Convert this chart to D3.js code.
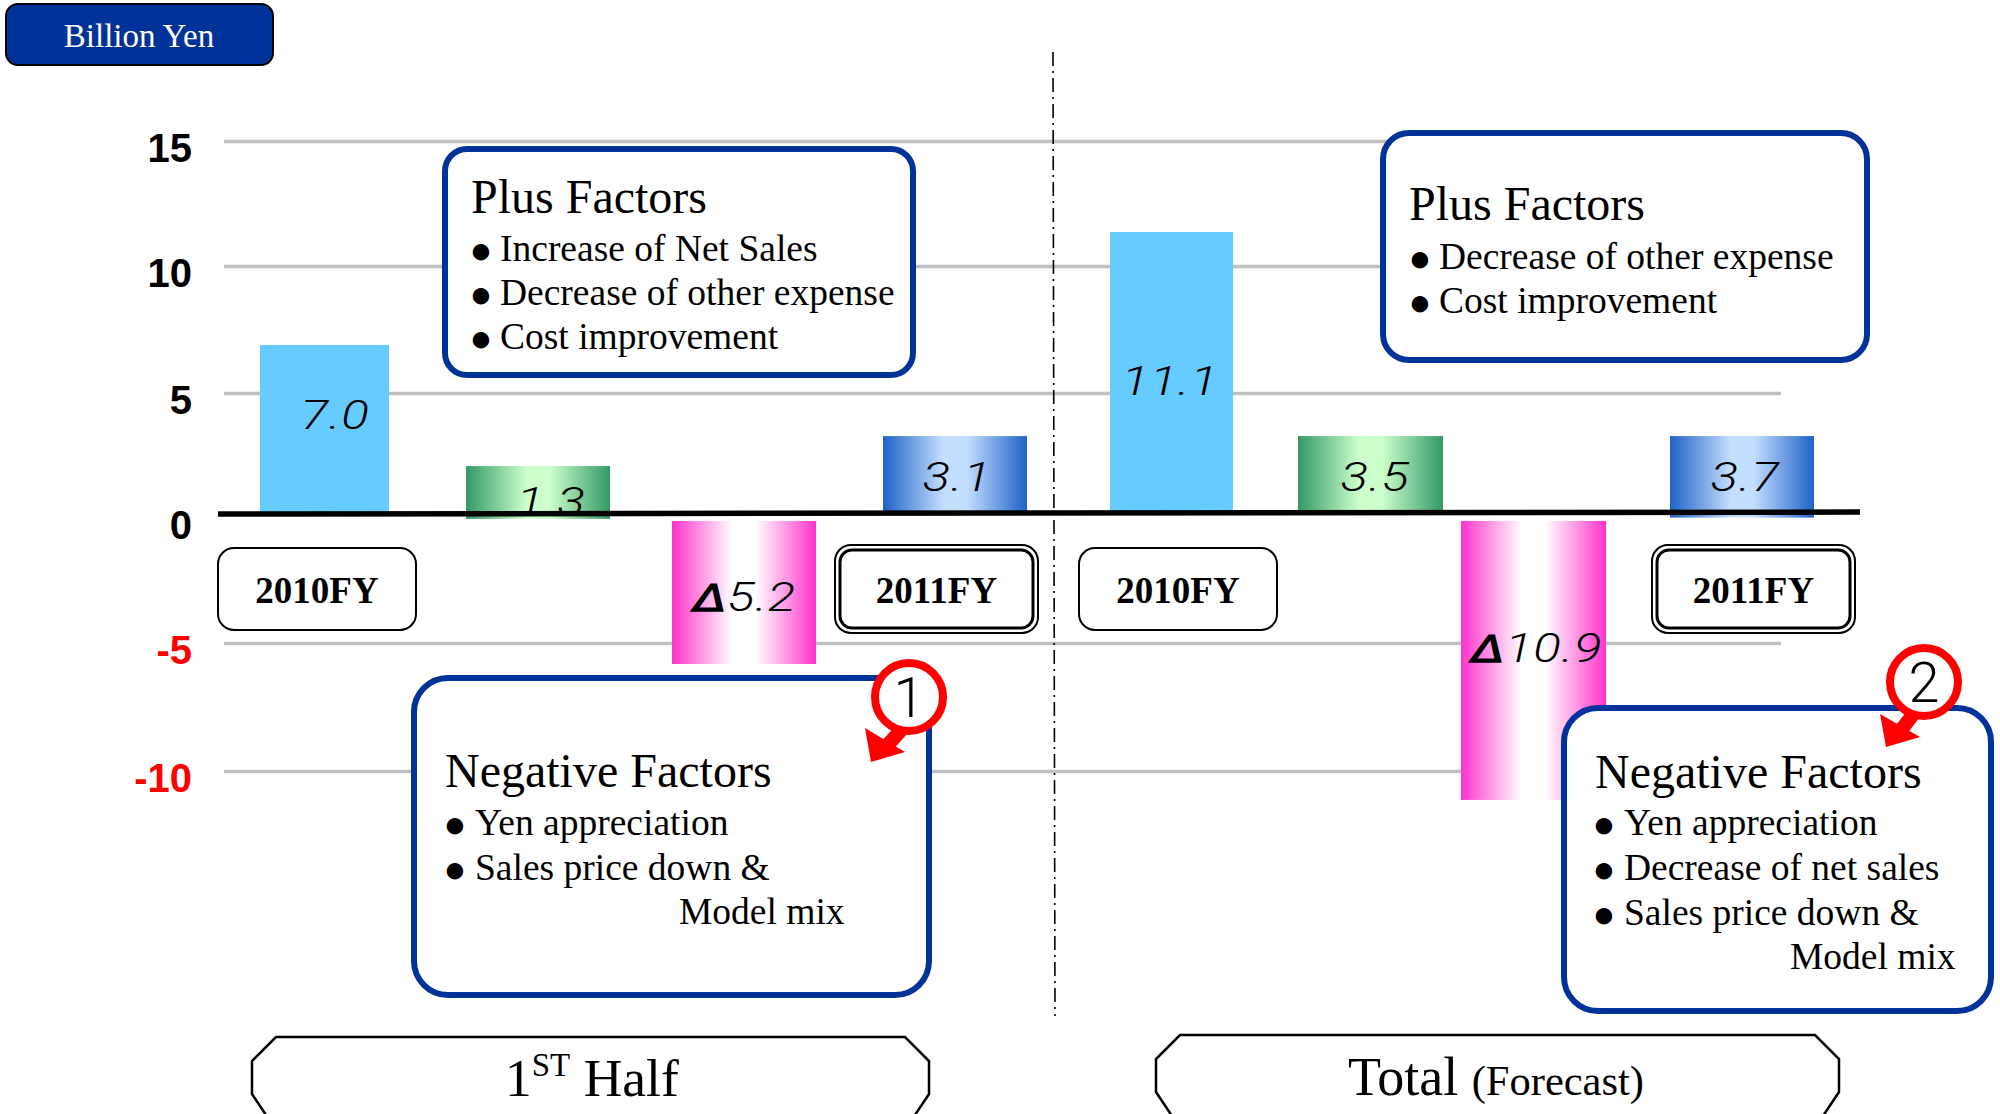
<!DOCTYPE html>
<html>
<head>
<meta charset="utf-8">
<script src="https://cdn.jsdelivr.net/npm/d3@7"></script>
<style>
  body { margin: 0; background: #fff; }
  svg { display: block; }
  .serif { font-family: "Liberation Serif", serif; }
</style>
</head>
<body>
<div id="chart"></div>
<script>
// values, the drawn bars do not quite agree with their printed labels
const categories = ["h1_2010", "h1_plus", "h1_minus", "h1_2011", "t_2010", "t_plus", "t_minus", "t_2011"];
const barTop = [6.89, 1.98, -0.27, 3.22, 11.36, 3.22, -0.27, 3.22];
const barBottom = [0, -0.19, -5.82, 0, 0, 0, -11.13, -0.14];
const barLabels = ["7.0", "1.3", "Δ5.2", "3.1", "11.1", "3.5", "Δ10.9", "3.7"];
const barKinds = ["solid", "green", "pink", "blue", "solid", "green", "pink", "blue"];
const yTicks = [15, 10, 5, 0, -5, -10];
const plusLeft = ["Increase of Net Sales", "Decrease of other expense", "Cost improvement"];
const plusRight = ["Decrease of other expense", "Cost improvement"];
const negLeft = ["Yen appreciation", "Sales price down &"];
const negRight = ["Yen appreciation", "Decrease of net sales", "Sales price down &"];

const width = 2000, height = 1114;
const blue = "#003399";

const svg = d3.select("#chart").append("svg")
    .attr("width", width)
    .attr("height", height);

const y = d3.scaleLinear()
    .domain([15, 10, 5, 0, -5, -10, -15])
    .range([141, 266, 393, 514, 643, 771, 899]);

const barLeft = d3.scaleOrdinal(categories, [260, 466, 672, 883, 1110, 1298, 1461, 1670]);
const barRight = d3.scaleOrdinal(categories, [389, 610, 816, 1027, 1233, 1443, 1606, 1814]);
const labelX = d3.scaleOrdinal(categories, [335, 551, 745, 957, 1170, 1375, 1537, 1745]);
const labelY = d3.scaleOrdinal(categories, [429, 516, 611, 491, 395, 491, 662, 491]);

// gradients, dark at both edges with a flat middle
const defs = svg.append("defs");
const gradients = {
  green: ["#339966", "#ccffcc"],
  pink: ["#ff33cc", "#ffffff"],
  blue: ["#1f62c8", "#c4deff"]
};
Object.keys(gradients).forEach(function(key) {
  const g = defs.append("linearGradient").attr("id", "grad-" + key);
  g.append("stop").attr("offset", "0%").attr("stop-color", gradients[key][0]);
  g.append("stop").attr("offset", "42%").attr("stop-color", gradients[key][1]);
  g.append("stop").attr("offset", "58%").attr("stop-color", gradients[key][1]);
  g.append("stop").attr("offset", "100%").attr("stop-color", gradients[key][0]);
});

// gridlines
const grid = svg.append("g")
    .attr("transform", "translate(224,0)")
    .call(d3.axisRight(y).tickValues(yTicks.filter(d => d !== 0)).tickSize(1557).tickFormat(""));
grid.select(".domain").remove();
grid.selectAll("line").attr("stroke", "#c0c0c0").attr("stroke-width", 3.5);

// tick labels
const yAxis = svg.append("g")
    .attr("transform", "translate(192,0)")
    .call(d3.axisLeft(y).tickValues(yTicks).tickSize(0).tickPadding(0).tickFormat(d => String(d)));
yAxis.select(".domain").remove();
yAxis.selectAll("text")
    .attr("x", 0)
    .attr("dy", d => d === 0 ? "0.6em" : "0.5em")
    .style("font-family", '"Liberation Sans", sans-serif')
    .style("font-weight", "bold")
    .style("font-size", "40px")
    .attr("fill", d => d < 0 ? "#ff0000" : "#000");

// bars
svg.append("g").selectAll("rect")
    .data(categories)
    .join("rect")
    .attr("x", d => barLeft(d))
    .attr("width", d => barRight(d) - barLeft(d))
    .attr("y", (d, i) => y(barTop[i]))
    .attr("height", (d, i) => y(barBottom[i]) - y(barTop[i]))
    .attr("fill", (d, i) => barKinds[i] === "solid" ? "#66ccff" : "url(#grad-" + barKinds[i] + ")");

// the original face is a wide light italic, so stretch a light one sideways
const valueLabels = svg.append("g").selectAll("text")
    .data(categories)
    .join("text")
    .attr("transform", d => `translate(${labelX(d)},${labelY(d)}) scale(1.25,1)`)
    .attr("text-anchor", "middle")
    .style("font-family", 'Roboto, sans-serif')
    .style("font-style", "italic")
    .style("font-weight", 300)
    .style("font-size", "41px")
    .style("letter-spacing", "0.5px");
valueLabels.each(function(d, i) {
  const t = d3.select(this), label = barLabels[i];
  if (label[0] === "Δ") {
    t.append("tspan")
        .style("font-family", '"DejaVu Sans", sans-serif')
        .style("font-weight", 400)
        .style("font-size", "38px")
        .attr("stroke", "#000")
        .attr("stroke-width", 1.2)
        .text("Δ");
    t.append("tspan").text(label.slice(1));
  } else {
    t.text(label);
  }
});

// zero line, runs slightly uphill in the original
svg.append("line")
    .attr("x1", 218).attr("x2", 1860)
    .attr("y1", y(0)).attr("y2", y(0.08))
    .attr("stroke", "#000").attr("stroke-width", 5.5);

// divider
svg.append("line")
    .attr("x1", 1053).attr("y1", 52)
    .attr("x2", 1055).attr("y2", 1016)
    .attr("stroke", "#000").attr("stroke-width", 1.6)
    .attr("stroke-dasharray", "14 5 2 5");

// unit badge
svg.append("rect")
    .attr("x", 6).attr("y", 4).attr("width", 267).attr("height", 61).attr("rx", 12)
    .attr("fill", blue).attr("stroke", "#000").attr("stroke-width", 2);
svg.append("text").attr("class", "serif")
    .attr("x", 139).attr("y", 47)
    .attr("text-anchor", "middle").attr("fill", "#fff")
    .style("font-size", "33px")
    .text("Billion Yen");

function fyBox(x, w, label, isDouble) {
  const yy = isDouble ? 545 : 548, hh = isDouble ? 88 : 82;
  svg.append("rect")
      .attr("x", x).attr("y", yy).attr("width", w).attr("height", hh).attr("rx", 16)
      .attr("fill", "#fff").attr("stroke", "#000").attr("stroke-width", 2);
  if (isDouble) {
    svg.append("rect")
        .attr("x", x + 5).attr("y", yy + 5).attr("width", w - 10).attr("height", hh - 10).attr("rx", 12)
        .attr("fill", "none").attr("stroke", "#000").attr("stroke-width", 3);
  }
  svg.append("text").attr("class", "serif")
      .attr("x", x + w / 2).attr("y", 603)
      .attr("text-anchor", "middle")
      .style("font-size", "37px").style("font-weight", "bold")
      .text(label);
}
fyBox(218, 198, "2010FY", false);
fyBox(835, 203, "2011FY", true);
fyBox(1079, 198, "2010FY", false);
fyBox(1652, 203, "2011FY", true);

function factorBox(o) {
  svg.append("rect")
      .attr("x", o.x).attr("y", o.y).attr("width", o.w).attr("height", o.h).attr("rx", o.r)
      .attr("fill", "#fff").attr("stroke", blue).attr("stroke-width", 6);
  svg.append("text").attr("class", "serif")
      .attr("x", o.titleX).attr("y", o.titleY)
      .style("font-size", "48px")
      .text(o.title);
  o.lines.forEach(function(line, i) {
    svg.append("text").attr("class", "serif")
        .attr("x", o.bulletX).attr("y", o.lineY[i] + 2)
        .attr("text-anchor", "middle")
        .style("font-size", "38px")
        .text("●");
    svg.append("text").attr("class", "serif")
        .attr("x", o.textX).attr("y", o.lineY[i])
        .style("font-size", "37.5px")
        .text(line);
  });
  if (o.extraX) {
    svg.append("text").attr("class", "serif")
        .attr("x", o.extraX).attr("y", o.extraY)
        .style("font-size", "37.5px")
        .text("Model mix");
  }
}
factorBox({x: 445, y: 149, w: 468, h: 226, r: 22, title: "Plus Factors", titleX: 471, titleY: 213,
  lines: plusLeft, bulletX: 481, textX: 500, lineY: [261, 305, 349]});
factorBox({x: 1383, y: 133, w: 484, h: 227, r: 26, title: "Plus Factors", titleX: 1409, titleY: 220,
  lines: plusRight, bulletX: 1420, textX: 1439, lineY: [269, 313]});
factorBox({x: 414, y: 678, w: 515, h: 317, r: 34, title: "Negative Factors", titleX: 445, titleY: 787,
  lines: negLeft, bulletX: 455, textX: 475, lineY: [835, 880], extraX: 679, extraY: 924});
factorBox({x: 1564, y: 708, w: 427, h: 303, r: 34, title: "Negative Factors", titleX: 1595, titleY: 788,
  lines: negRight, bulletX: 1604, textX: 1624, lineY: [835, 880, 925], extraX: 1790, extraY: 969});

function marker(cx, cy, label, head, shaft) {
  svg.append("line")
      .attr("x1", shaft[0]).attr("y1", shaft[1]).attr("x2", shaft[2]).attr("y2", shaft[3])
      .attr("stroke", "#ff0000").attr("stroke-width", 14);
  svg.append("polygon")
      .attr("points", head.join(" "))
      .attr("fill", "#ff0000");
  svg.append("circle")
      .attr("cx", cx).attr("cy", cy).attr("r", 34)
      .attr("fill", "#fff").attr("stroke", "#ff0000").attr("stroke-width", 8);
  svg.append("text")
      .attr("x", cx).attr("y", cy + 20)
      .attr("text-anchor", "middle")
      .style("font-family", 'Roboto, sans-serif')
      .style("font-weight", 300)
      .style("font-size", "56px")
      .text(label);
}
marker(909, 697, "1", ["865,728", "905,752", "871,762"], [903, 728, 885, 748]);
marker(1924, 682, "2", ["1880,714", "1920,737", "1886,747"], [1915, 712, 1898, 734]);

// period tags run off the bottom of the page
function octagon(l, r, top) {
  const s = 24;
  return [[l + s, top], [r - s, top], [r, top + s], [r, top + 57], [r - s, top + 93],
          [l + s, top + 93], [l, top + 57], [l, top + s]];
}
function periodTag(l, r, top) {
  svg.append("polygon")
      .attr("points", octagon(l, r, top).map(p => p.join(",")).join(" "))
      .attr("fill", "#fff").attr("stroke", "#000").attr("stroke-width", 2.5);
}
periodTag(252, 929, 1037);
periodTag(1156, 1839, 1035);

const half = svg.append("text").attr("class", "serif")
    .attr("x", 505).attr("y", 1096)
    .style("font-size", "53.5px");
half.append("tspan").text("1");
half.append("tspan").attr("dy", -20).style("font-size", "33px").text("ST");
half.append("tspan").attr("dy", 20).text(" Half");

const total = svg.append("text").attr("class", "serif")
    .attr("x", 1348).attr("y", 1095)
    .style("font-size", "54px");
total.append("tspan").text("Total ");
total.append("tspan").style("font-size", "42.5px").text("(Forecast)");
</script>
</body>
</html>
